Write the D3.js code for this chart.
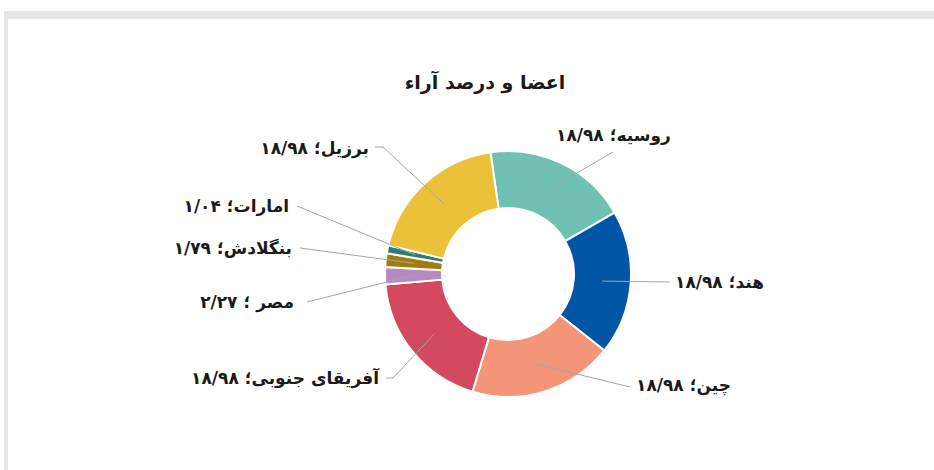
<!DOCTYPE html>
<html>
<head>
<meta charset="utf-8">
<script src="https://cdn.jsdelivr.net/npm/d3@7"></script>
<style>
  body { margin: 0; background: #fff; }
  svg text { font-family: "DejaVu Sans", "Noto Sans", sans-serif; font-weight: bold; fill: #1a1a1a; }
</style>
</head>
<body>
<div id="chart"></div>
<script>
// members and vote share
var names = ["روسیه", "هند", "چین", "آفریقای جنوبی", "مصر", "بنگلادش", "امارات", "برزیل"];
var values = [18.98, 18.98, 18.98, 18.98, 2.27, 1.79, 1.04, 18.98];
var valueLabels = ["۱۸/۹۸", "۱۸/۹۸", "۱۸/۹۸", "۱۸/۹۸", "۲/۲۷", "۱/۷۹", "۱/۰۴", "۱۸/۹۸"];
var seps = ["؛ ", "؛ ", "؛ ", "؛ ", " ؛ ", "؛ ", "؛ ", "؛ "];
var colors = ["#71c1b3", "#0055a4", "#f4957a", "#d3495e", "#b58ac0", "#a07d0c", "#2a7f6e", "#ebc13a"];

// where the labels sit (placed by hand, like the original)
var labelPos = [
    { x: 556, y: 141, anchor: "start", leader: [[613, 152]] },
    { x: 675, y: 288, anchor: "start", leader: [[670, 282]] },
    { x: 636, y: 391, anchor: "start", leader: [[630, 387]] },
    { x: 379, y: 384, anchor: "end", leader: [[393, 378], [386, 378]] },
    { x: 294, y: 308, anchor: "end", leader: [[307, 302]] },
    { x: 292, y: 254, anchor: "end", leader: [[300, 248]] },
    { x: 289, y: 212, anchor: "end", leader: [[297, 206]] },
    { x: 369, y: 154, anchor: "end", leader: [[383, 147], [375, 147]] }
];

var width = 934, height = 470;
var cx = 508, cy = 274, rOuter = 123, rInner = 66;

var svg = d3.select("#chart").append("svg")
    .attr("width", width)
    .attr("height", height);

// gray frame
svg.append("rect").attr("x", 4).attr("y", 11).attr("width", width).attr("height", height)
    .attr("fill", "#e5e6e8");
svg.append("rect").attr("x", 8).attr("y", 19).attr("width", width).attr("height", height)
    .attr("fill", "#ffffff");

svg.append("text")
    .attr("x", 485)
    .attr("y", 89)
    .attr("text-anchor", "middle")
    .style("font-size", "19px")
    .text("اعضا و درصد آراء");

var startA = -8.2 * Math.PI / 180;
var pie = d3.pie().sort(null).startAngle(startA).endAngle(startA + 2 * Math.PI);
var arcs = pie(values);

var arc = d3.arc().innerRadius(rInner).outerRadius(rOuter);
var mid = d3.arc().innerRadius((rInner + rOuter) / 2).outerRadius((rInner + rOuter) / 2);

var g = svg.append("g").attr("transform", "translate(" + cx + "," + cy + ")");

g.selectAll("path.slice")
    .data(arcs)
    .enter()
    .append("path")
    .attr("class", "slice")
    .attr("d", arc)
    .attr("fill", function(d, i) { return colors[i]; })
    .attr("stroke", "#fff")
    .attr("stroke-width", 2);

// leader lines
svg.append("g").selectAll("path")
    .data(arcs)
    .enter()
    .append("path")
    .attr("fill", "none")
    .attr("stroke", "#a6a6a6")
    .attr("stroke-width", 1)
    .attr("d", function(d, i) {
        var c = mid.centroid(d);
        var pts = [[cx + c[0], cy + c[1]]].concat(labelPos[i].leader);
        return d3.line()(pts);
    });

svg.append("g").selectAll("text")
    .data(arcs)
    .enter()
    .append("text")
    .attr("x", function(d, i) { return labelPos[i].x; })
    .attr("y", function(d, i) { return labelPos[i].y; })
    .attr("text-anchor", function(d, i) { return labelPos[i].anchor; })
    .style("font-size", "17px")
    .text(function(d, i) { return names[i] + seps[i] + valueLabels[i]; });
</script>
</body>
</html>
